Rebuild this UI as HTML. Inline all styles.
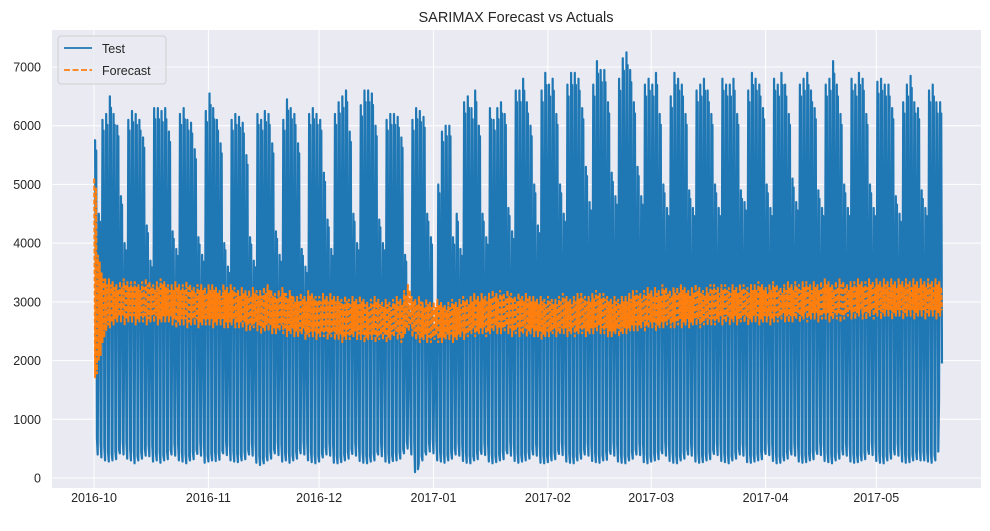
<!DOCTYPE html>
<html><head><meta charset="utf-8"><style>
body{margin:0;background:#fff;font-family:"Liberation Sans",sans-serif;}
svg text{font-family:"Liberation Sans",sans-serif;}
</style></head><body>
<svg id="chart" width="990" height="526">
<text x="516" y="22" text-anchor="middle" font-size="14.5" fill="#262626">SARIMAX Forecast vs Actuals</text>
<rect x="52" y="30" width="929" height="458" fill="#eaeaf2"/>
<g id="grid"></g><g id="series"></g><g id="axes"></g>
<g>
<rect x="58" y="36" width="108" height="48" rx="3" fill="#eaeaf2" fill-opacity="0.85" stroke="#d0d0d0"/>
<line x1="64" y1="48" x2="92" y2="48" stroke="#1f77b4" stroke-width="1.8"/>
<text x="102" y="53" font-size="12.5" fill="#262626">Test</text>
<line x1="64" y1="70" x2="92" y2="70" stroke="#ff7f0e" stroke-width="1.8" stroke-dasharray="6,2.5"/>
<text x="102" y="75" font-size="12.5" fill="#262626">Forecast</text>
</g>
</svg>
<script>
const tickLabelsX=["2016-10","2016-11","2016-12","2017-01","2017-02","2017-03","2017-04","2017-05"];
const tickDaysX=[0,31,61,92,123,151,182,212];
const tickValsY=[0,1000,2000,3000,4000,5000,6000,7000];
const dailyPeak=[
5750,4500,6100,6200,6500,6200,6000,
4800,4000,6100,6250,6200,6100,5800,
4300,3700,6300,6300,6250,6300,5900,
4200,3900,6200,6300,6100,6050,5600,
4100,3800,6250,6550,6300,6100,5700,
4000,3600,6100,6200,6150,6050,5500,
4100,3700,6200,6100,6250,6200,5700,
4200,3800,6100,6450,6300,6200,5700,
3900,3600,6200,6300,6200,6100,5200,
4400,3900,6200,6400,6500,6600,5900,
4500,4000,6350,6600,6600,6550,6000,
4400,4000,6100,6200,6200,6150,5800,
3800,2900,6100,6300,6250,6150,4500,
4100,2600,5000,5900,6000,6000,4100,
4500,3900,6400,6500,6300,6600,6000,
4500,4100,6300,6100,6300,6400,6200,
4600,4200,6600,6600,6800,6400,6000,
5000,4300,6600,6900,6700,6800,6200,
5000,4500,6700,6900,6900,6800,6300,
5300,4700,6700,7100,6950,6950,6400,
5200,4800,6800,7150,7250,6950,6400,
5300,4800,6700,6800,6700,6900,6200,
5000,4600,6500,6900,6800,6700,6200,
4900,4600,6600,6700,6800,6600,6200,
5000,4600,6800,6700,6700,6800,6200,
4900,4700,6600,6900,6800,6700,6300,
5000,4600,6800,6700,6900,6700,6200,
5100,4700,6700,6800,6900,6600,6300,
4900,4600,6700,6800,7100,6700,6200,
5000,4600,6800,6700,6900,6800,6200,
5000,4600,6750,6800,6700,6700,6300,
4800,4500,6400,6700,6850,6400,6300,
4900,4600,6600,6700,6400,6400];
const dailyTrough=[
450,400,350,300,280,300,320,
420,400,330,300,250,300,330,
380,370,280,300,260,300,320,
400,380,300,280,250,300,320,
410,380,260,280,300,290,310,
420,390,300,280,270,300,320,
400,380,260,220,250,300,330,
420,390,280,300,260,300,330,
420,400,300,270,250,280,350,
400,380,260,250,270,300,330,
410,380,290,260,250,280,300,
400,370,280,260,290,300,330,
420,500,400,100,250,300,400,
450,420,300,280,260,300,330,
400,380,290,260,250,300,320,
410,390,280,250,270,300,320,
420,380,290,260,280,300,330,
400,380,260,250,270,300,320,
410,390,280,260,250,300,330,
400,380,290,270,260,300,310,
410,380,280,260,250,300,330,
400,390,270,250,280,300,320,
420,380,290,260,250,300,330,
400,380,280,260,270,300,320,
410,390,290,270,250,300,330,
400,380,270,260,280,300,320,
410,390,290,250,260,300,330,
400,380,280,260,270,300,320,
410,390,290,270,250,300,330,
400,380,280,260,270,300,320,
410,390,290,260,250,300,330,
400,380,280,260,270,300,320,
300,300,280,260,300,1300];
const fcHigh=[
5100,3800,3500,3400,3400,3350,3300,3350,3400,3350,3350,3350,3300,3350,3400,3350,3300,3350,3400,3350,3300,
3300,3350,3300,3300,3350,3300,3250,3300,3300,3250,3300,3300,3250,3200,3300,3250,3300,3250,3200,3250,3200,
3200,3250,3200,3200,3250,3300,3200,3150,3200,3250,3150,3200,3100,3100,3150,3100,3200,3150,3100,3100,3150,
3100,3150,3100,3100,3050,3100,3050,3100,3050,3100,3050,3000,3050,3100,3050,3000,3050,3000,3050,3100,3050,
3200,3300,3100,3050,3100,3000,3050,3000,3000,3050,3000,2950,3000,3050,3000,3050,3100,3050,3100,3150,3100,
3150,3100,3150,3200,3150,3200,3150,3200,3150,3100,3150,3100,3150,3100,3100,3050,3100,3050,3100,3050,3050,
3100,3150,3100,3050,3100,3150,3150,3100,3100,3150,3200,3150,3150,3100,3050,3100,3050,3100,3100,3150,3200,
3200,3150,3200,3250,3200,3250,3200,3300,3250,3200,3250,3250,3300,3250,3200,3250,3300,3250,3200,3250,3300,
3300,3250,3300,3300,3250,3300,3250,3300,3300,3250,3300,3300,3350,3300,3250,3300,3350,3300,3250,3300,3350,
3300,3350,3300,3350,3350,3300,3350,3300,3350,3400,3350,3300,3350,3400,3350,3300,3350,3350,3400,3350,3350,
3400,3350,3400,3350,3400,3350,3400,3350,3400,3350,3400,3350,3400,3350,3400,3350,3400,3350,3400,3350];
const fcLow=[
1700,2000,2300,2500,2550,2600,2650,2650,2600,2650,2650,2600,2650,2650,2600,2650,2650,2600,2650,2650,2650,
2600,2550,2600,2600,2550,2600,2600,2550,2600,2600,2600,2550,2600,2600,2550,2550,2600,2550,2550,2550,2500,
2500,2550,2500,2450,2500,2500,2450,2450,2500,2450,2400,2450,2400,2400,2450,2350,2400,2400,2350,2400,2400,
2350,2400,2350,2350,2300,2350,2350,2400,2350,2350,2300,2350,2350,2300,2350,2350,2300,2350,2400,2350,2300,
2450,2500,2400,2350,2300,2350,2300,2300,2350,2300,2300,2350,2350,2300,2350,2400,2350,2400,2450,2400,2450,
2450,2400,2450,2500,2450,2450,2500,2450,2400,2450,2400,2450,2400,2450,2400,2400,2350,2400,2400,2450,2400,
2450,2450,2400,2450,2400,2450,2450,2400,2450,2450,2500,2450,2450,2400,2400,2450,2400,2450,2450,2500,2500,
2500,2550,2500,2550,2550,2500,2550,2550,2600,2550,2550,2600,2550,2600,2550,2600,2600,2550,2600,2600,2600,
2600,2650,2600,2650,2600,2650,2600,2650,2650,2600,2650,2650,2600,2650,2650,2600,2650,2650,2700,2650,2650,
2650,2700,2650,2700,2650,2700,2700,2650,2700,2700,2650,2700,2700,2650,2700,2750,2700,2700,2750,2700,2700,
2750,2700,2750,2700,2750,2750,2700,2750,2750,2700,2750,2750,2700,2750,2750,2700,2750,2750,2700,2750];
const NS='http://www.w3.org/2000/svg';
const x0=94,pxPerDay=3.69;
function xScale(d){return x0+d*pxPerDay;}
function yScale(v){return 478-v*(411/7000);}
function mk(tag,attrs,parent){const e=document.createElementNS(NS,tag);for(const k in attrs)e.setAttribute(k,attrs[k]);parent.appendChild(e);return e;}
const grid=document.getElementById('grid'),axes=document.getElementById('axes'),series=document.getElementById('series');
tickValsY.forEach(v=>{
 const l=mk('line',{x1:52,x2:981,y1:yScale(v),y2:yScale(v),stroke:'#fff','stroke-width':1},grid);
 
 
 const t=mk('text',{x:41,y:yScale(v)+4.5,'text-anchor':'end','font-size':12.5,fill:'#262626'},axes);
 t.textContent=v;
 
 
});
tickDaysX.forEach((d,i)=>{
 const l=mk('line',{x1:xScale(d),x2:xScale(d),y1:30,y2:488,stroke:'#fff','stroke-width':1},grid);
 
 
 const t=mk('text',{x:xScale(d),y:502,'text-anchor':'middle','font-size':12.5,fill:'#262626'},axes);
 t.textContent=tickLabelsX[i];
 
 
});
let pts=[];
dailyPeak.forEach((p,i)=>{
 const tr=dailyTrough[i];
 pts.push([xScale(i),yScale(i===0?p:tr)]);
 pts.push([xScale(i+0.3),yScale(p)]);
 pts.push([xScale(i+0.45),yScale(p*0.55)]);
 pts.push([xScale(i+0.6),yScale(p*0.97)]);
 pts.push([xScale(i+0.8),yScale(tr*1.5)]);
});
const testLine=mk('polyline',{points:pts.map(q=>q.join(',')).join(' '),fill:'none',stroke:'#1f77b4','stroke-width':2.2,'stroke-linejoin':'round'},series);


let fp=[];
fcHigh.forEach((h,i)=>{
 const lo=fcLow[i];
 fp.push([xScale(i+0.05),yScale(h)]);
 fp.push([xScale(i+0.3),yScale(lo)]);
 fp.push([xScale(i+0.55),yScale(h*0.97)]);
 fp.push([xScale(i+0.8),yScale(lo*1.04)]);
});
const fcLine=mk('polyline',{points:fp.map(q=>q.join(',')).join(' '),fill:'none',stroke:'#ff7f0e','stroke-width':2,'stroke-dasharray':'5,2'},series);


</script>
</body></html>
